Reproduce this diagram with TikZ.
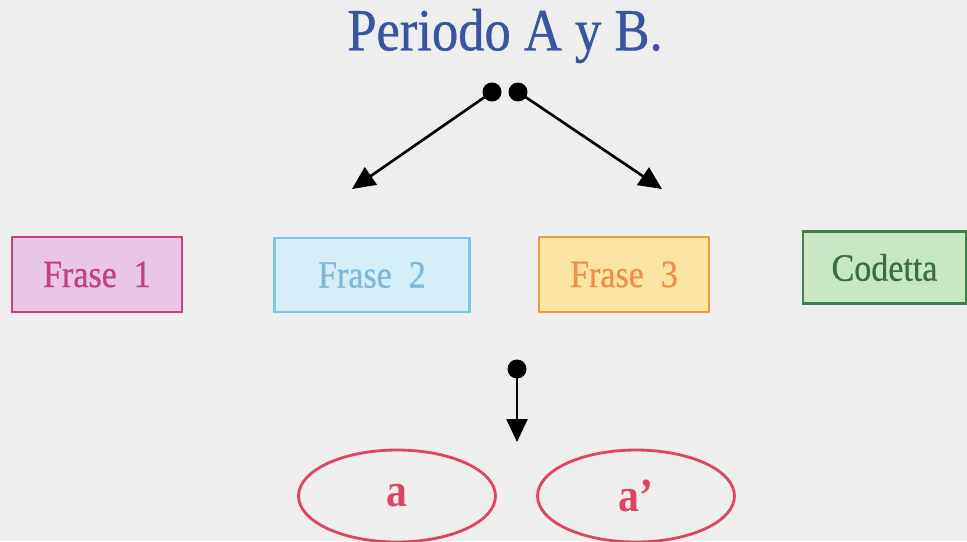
\documentclass[tikz,border=0pt]{standalone}
\usepackage{fontspec}
\setmainfont[FakeStretch=0.88]{Liberation Serif}
\newfontfamily\heavyfont[FakeStretch=0.88,FakeBold=0.6]{Liberation Serif}
\usetikzlibrary{arrows.meta,shapes.geometric}
\definecolor{bg}{HTML}{EEEEEE}
\definecolor{titleblue}{HTML}{3A55A0}
\definecolor{f1fill}{HTML}{E9C6E4}\definecolor{f1line}{HTML}{C0437F}
\definecolor{f2fill}{HTML}{D5EEF8}\definecolor{f2line}{HTML}{7CC6E6}\definecolor{f2text}{HTML}{7DBADA}
\definecolor{f3fill}{HTML}{FBE3A2}\definecolor{f3line}{HTML}{EE9A42}\definecolor{f3text}{HTML}{EC8F4A}
\definecolor{cfill}{HTML}{C9E7C5}\definecolor{cline}{HTML}{3F7F4C}\definecolor{ctext}{HTML}{3A6E48}
\definecolor{ered}{HTML}{E04464}
\tikzset{
  frasebox/.style={draw, line width=1.6pt, inner sep=0pt, font=\heavyfont\fontsize{22}{24}\selectfont},
  dotnode/.style={circle, fill=black, inner sep=0pt, minimum size=0.38cm},
  conn/.style={line width=1.5pt, -{Triangle[length=0.46cm,width=0.42cm]}},
  ovalnode/.style={ellipse, draw=ered, line width=1.6pt, text=ered, inner sep=0pt,
    minimum width=3.94cm, minimum height=1.84cm, font=\bfseries\fontsize{27}{29}\selectfont}
}
\begin{document}
\begin{tikzpicture}[x=0.02cm,y=-0.02cm]
\fill[bg] (0,0) rectangle (967,541);
\useasboundingbox (0,0) rectangle (967,541);
\node[text=titleblue, font=\heavyfont\fontsize{34}{36}\selectfont] (title) at (505,36) {Periodo A y B.};
\node[dotnode] (d1) at (492,92) {};
\node[dotnode] (d2) at (518,92) {};
\coordinate (t1) at (352,189);
\coordinate (t2) at (662,189);
\draw[conn] (d1.center) -- (t1);
\draw[conn] (d2.center) -- (t2);
\node[frasebox, draw=f1line, fill=f1fill, text=f1line, minimum width=3.4cm, minimum height=1.5cm] (f1) at (97,274.5) {Frase\ \ 1};
\node[frasebox, draw=f2line, fill=f2fill, text=f2text, minimum width=3.9cm, minimum height=1.48cm] (f2) at (372,275) {Frase\ \ 2};
\node[frasebox, draw=f3line, fill=f3fill, text=f3text, minimum width=3.4cm, minimum height=1.5cm] (f3) at (624,274.5) {Frase\ \ 3};
\node[frasebox, draw=cline, fill=cfill, text=ctext, minimum width=3.26cm, minimum height=1.44cm] (cod) at (884.5,267.5) {Codetta};
\node[dotnode] (d3) at (517,369) {};
\coordinate (t3) at (517,442);
\draw[conn] (d3.center) -- (t3);
\node[ovalnode] (a1) at (397,496) {a};
\node[ovalnode] (a2) at (636,496) {a'};
\end{tikzpicture}
\end{document}
